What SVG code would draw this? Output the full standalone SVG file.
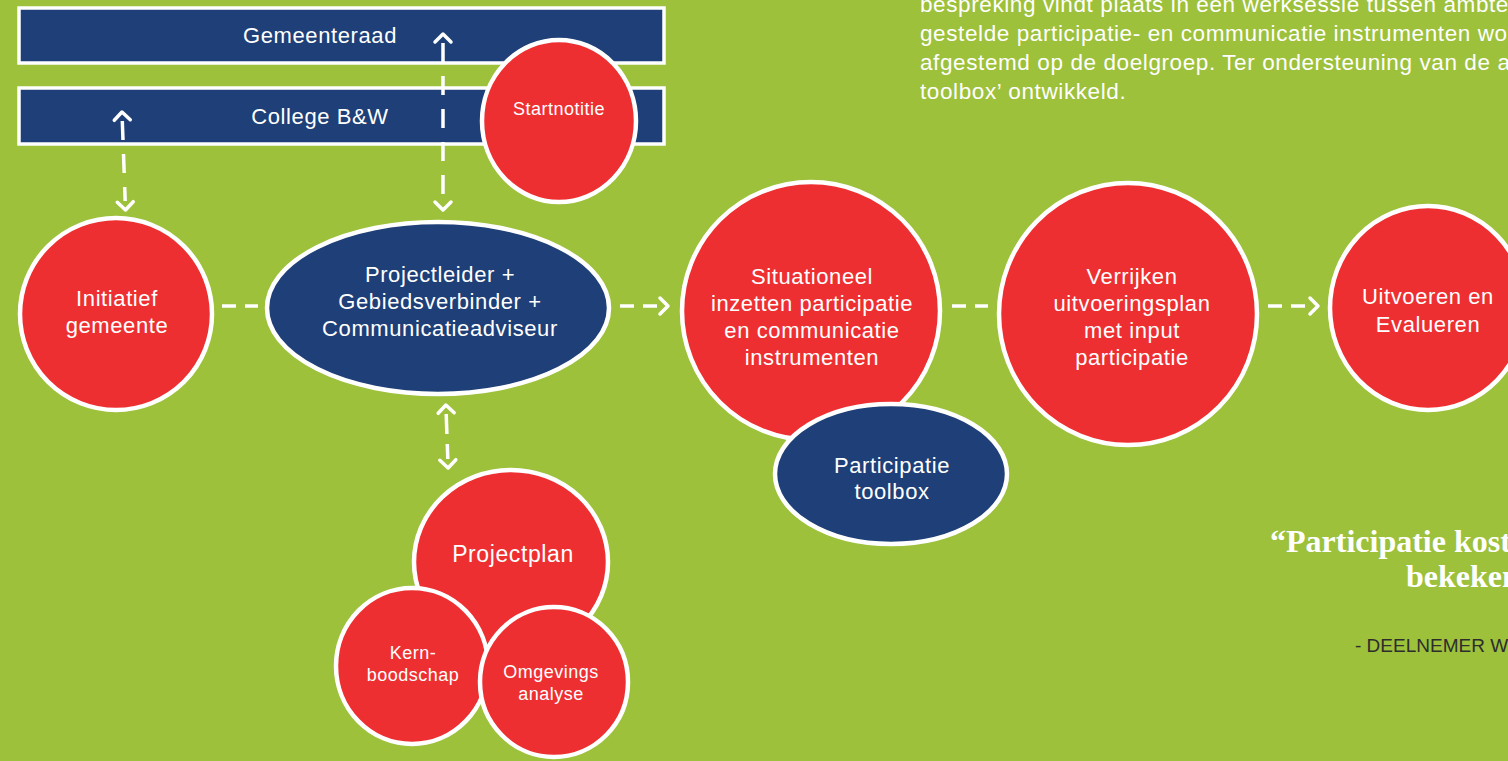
<svg xmlns="http://www.w3.org/2000/svg" width="1508" height="761" viewBox="0 0 1508 761">
<style>
.bg{fill:#9DC13B}
.red{fill:#EE2F31;stroke:#fff;stroke-width:4.5}
.navy{fill:#1E3F77;stroke:#fff;stroke-width:4.5}
.band{fill:#1E3F77;stroke:#fff;stroke-width:3.5}
.t{font-family:"Liberation Sans",Arial,sans-serif;fill:#fff;text-anchor:middle;font-size:22px;letter-spacing:0.6px}
.ts{font-size:18px;letter-spacing:0.5px}
.conn{fill:none;stroke:#fff;stroke-width:3.5;stroke-dasharray:14 9}
.connv{fill:none;stroke:#fff;stroke-width:3.5;stroke-dasharray:19 14}
.para{font-family:"Liberation Sans",Arial,sans-serif;fill:#fff;font-size:22.5px;letter-spacing:0.6px}
.quote{font-family:"Liberation Serif","Times New Roman",serif;font-weight:bold;fill:#fff;font-size:32px}
.cite{font-family:"Liberation Sans",Arial,sans-serif;fill:#2d2d2d;font-size:19px}
</style>
<defs>
<marker id="chev" viewBox="-20 -12 32 24" markerWidth="32" markerHeight="24" refX="-9" refY="0" orient="auto-start-reverse" markerUnits="userSpaceOnUse">
<path d="M-8,-8 L0,0 L-8,8" fill="none" stroke="#fff" stroke-width="3.5" stroke-linecap="round" stroke-linejoin="round"/>
</marker>
</defs>
<rect class="bg" x="0" y="0" width="1508" height="761"/>

<g id="text-paragraph">
<text class="para" x="920" y="12">bespreking vindt plaats in een werksessie tussen ambte</text>
<text class="para" x="920" y="41">gestelde participatie- en communicatie instrumenten wo</text>
<text class="para" x="920" y="70">afgestemd op de doelgroep. Ter ondersteuning van de a</text>
<text class="para" x="920" y="99">toolbox’ ontwikkeld.</text>
</g>

<g id="quote">
<text class="quote" x="1270" y="552">“Participatie kost</text>
<text class="quote" x="1406" y="587">bekeken</text>
<text class="cite" x="1355" y="652">- DEELNEMER W</text>
</g>

<g id="gemeenteraad">
<rect class="band" x="19" y="8" width="645" height="55"/>
<text class="t" x="320" y="43">Gemeenteraad</text>
</g>
<g id="college">
<rect class="band" x="19" y="88" width="645" height="56"/>
<text class="t" x="320" y="124">College B&amp;W</text>
</g>

<g id="connectors">
<path class="connv" d="M443,43 L443,201" marker-start="url(#chev)" marker-end="url(#chev)"/>
<path class="connv" d="M122.3,121 L125.2,201" marker-start="url(#chev)" marker-end="url(#chev)"/>
<path class="conn" d="M222,306 L258,306"/>
<path class="conn" d="M620,306 L659,306" marker-end="url(#chev)"/>
<path class="conn" d="M952,306 L988,306"/>
<path class="conn" d="M1268,306 L1309,306" marker-end="url(#chev)"/>
<path class="conn" d="M446.2,414 L447.8,459" marker-start="url(#chev)" marker-end="url(#chev)" style="stroke-dasharray:20 10"/>
</g>

<g id="startnotitie">
<ellipse class="red" cx="559" cy="121" rx="77" ry="81"/>
<text class="t ts" x="559" y="115">Startnotitie</text>
</g>

<g id="initiatief">
<ellipse class="red" cx="116" cy="314" rx="96" ry="96"/>
<text class="t" x="117" y="306">Initiatief</text>
<text class="t" x="117" y="333">gemeente</text>
</g>

<g id="projectleider">
<ellipse class="navy" cx="438" cy="308" rx="171" ry="86"/>
<text class="t" x="440" y="282">Projectleider +</text>
<text class="t" x="440" y="309">Gebiedsverbinder +</text>
<text class="t" x="440" y="336">Communicatieadviseur</text>
</g>

<g id="situationeel">
<ellipse class="red" cx="811" cy="311" rx="129" ry="129"/>
<text class="t" x="812" y="284">Situationeel</text>
<text class="t" x="812" y="311">inzetten participatie</text>
<text class="t" x="812" y="338">en communicatie</text>
<text class="t" x="812" y="365">instrumenten</text>
</g>

<g id="toolbox">
<ellipse class="navy" cx="891" cy="474" rx="116" ry="70"/>
<text class="t" x="892" y="473">Participatie</text>
<text class="t" x="892" y="499">toolbox</text>
</g>

<g id="verrijken">
<ellipse class="red" cx="1128" cy="314" rx="129" ry="131"/>
<text class="t" x="1132" y="284">Verrijken</text>
<text class="t" x="1132" y="311">uitvoeringsplan</text>
<text class="t" x="1132" y="338">met input</text>
<text class="t" x="1132" y="365">participatie</text>
</g>

<g id="uitvoeren">
<ellipse class="red" cx="1428" cy="308" rx="98" ry="102"/>
<text class="t" x="1428" y="304">Uitvoeren en</text>
<text class="t" x="1428" y="332">Evalueren</text>
</g>

<g id="projectplan">
<ellipse class="red" cx="511" cy="562" rx="97" ry="92"/>
<text class="t" x="513" y="562" style="font-size:23px">Projectplan</text>
</g>

<g id="kernboodschap">
<ellipse class="red" cx="412" cy="666" rx="76" ry="78"/>
<text class="t ts" x="413" y="659">Kern-</text>
<text class="t ts" x="413" y="681">boodschap</text>
</g>

<g id="omgevingsanalyse">
<ellipse class="red" cx="554" cy="682" rx="74" ry="75"/>
<text class="t ts" x="551" y="678">Omgevings</text>
<text class="t ts" x="551" y="700">analyse</text>
</g>
</svg>
